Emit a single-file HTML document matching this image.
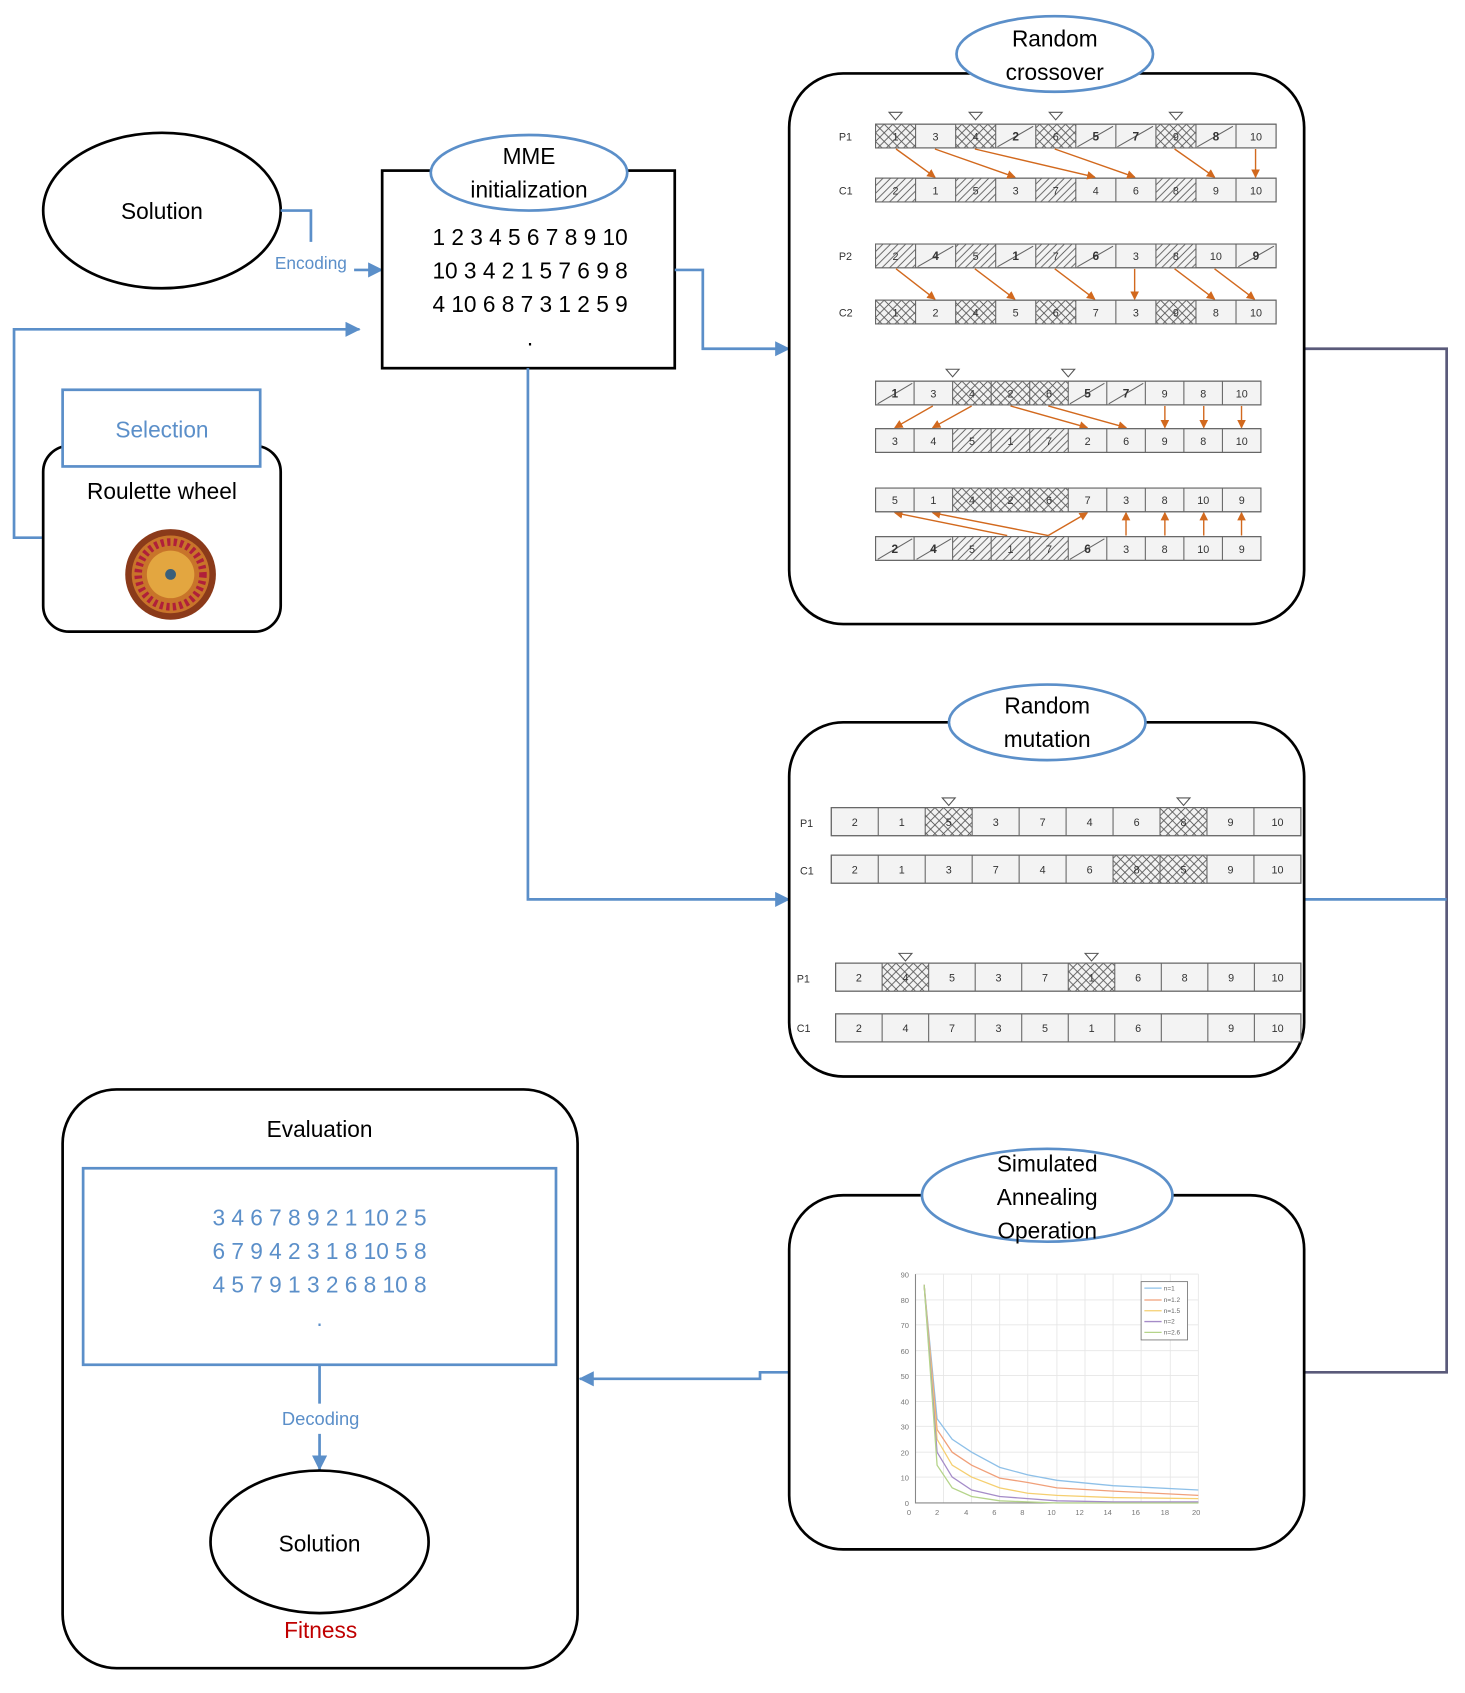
<!DOCTYPE html>
<html><head><meta charset="utf-8"><style>
html,body{margin:0;padding:0;background:#fff}
svg{display:block}
text{font-family:"Liberation Sans",sans-serif}
.c{fill:#f3f3f3;stroke:#666;stroke-width:1}
.t{font-size:10px;text-anchor:middle;fill:#333}
.b{font-weight:bold;font-size:11px}
.bl{fill:none;stroke:#5b8fc9;stroke-width:2.5}
.or line{stroke:#d2691e;stroke-width:1.3;marker-end:url(#ao)}
.vl{stroke:#666;stroke-width:1;fill:none}
</style></head><body>
<svg width="1465" height="1693" viewBox="0 0 1357 1568" preserveAspectRatio="none" xmlns="http://www.w3.org/2000/svg">
<defs>
<pattern id="x" width="8" height="8" patternUnits="userSpaceOnUse"><rect width="8" height="8" fill="#f3f3f3"/><path d="M0 0L8 8M8 0L0 8" stroke="#555" stroke-width="0.8"/></pattern>
<pattern id="h" width="7" height="7" patternUnits="userSpaceOnUse"><rect width="7" height="7" fill="#f3f3f3"/><path d="M0 7L7 0M-1 1L1 -1M6 8L8 6" stroke="#555" stroke-width="0.8"/></pattern>
<marker id="ao" markerWidth="8" markerHeight="8" refX="7" refY="4" orient="auto" markerUnits="userSpaceOnUse"><path d="M0 0L8 4L0 8z" fill="#d2691e"/></marker>
<marker id="ab" markerWidth="14" markerHeight="14" refX="13" refY="7" orient="auto" markerUnits="userSpaceOnUse"><path d="M0 0L14 7L0 14z" fill="#5b8fc9"/></marker>
<path id="v37" class="vl" d="M37.1 0v22M74.2 0v22M111.3 0v22M148.4 0v22M185.5 0v22M222.6 0v22M259.7 0v22M296.8 0v22M333.9 0v22"/>
<path id="v35" class="vl" d="M35.7 0v22M71.4 0v22M107.1 0v22M142.8 0v22M178.5 0v22M214.2 0v22M249.9 0v22M285.6 0v22M321.3 0v22"/>
<path id="v43" class="vl" d="M43.5 0v26M87 0v26M130.5 0v26M174 0v26M217.5 0v26M261 0v26M304.5 0v26M348 0v26M391.5 0v26"/>
<path id="v43b" class="vl" d="M43.1 0v26M86.2 0v26M129.3 0v26M172.4 0v26M215.5 0v26M258.6 0v26M301.7 0v26M344.8 0v26M387.9 0v26"/>
<path id="tri" d="M-6 0h12l-6 7z" fill="#fff" stroke="#555"/>
</defs>

<ellipse cx="150" cy="195" rx="110" ry="72" fill="#fff" stroke="#000" stroke-width="2.5"/>
<text x="150" y="203" font-size="21" text-anchor="middle">Solution</text>
<path class="bl" d="M260 195H288V224"/>
<text x="288" y="249" font-size="16" fill="#5b8fc9" text-anchor="middle">Encoding</text>
<path class="bl" d="M328 250H354" marker-end="url(#ab)"/>

<rect x="354" y="158" width="271" height="183" fill="#fff" stroke="#000" stroke-width="2.5"/>
<ellipse cx="490" cy="160" rx="91" ry="35" fill="#fff" stroke="#5b8fc9" stroke-width="2.5"/>
<text x="490" y="152" font-size="21" text-anchor="middle">MME</text>
<text x="490" y="183" font-size="21" text-anchor="middle">initialization</text>
<text x="491" y="227" font-size="21" text-anchor="middle">1 2 3 4 5 6 7 8 9 10</text>
<text x="491" y="258" font-size="21" text-anchor="middle">10 3 4 2 1 5 7 6 9 8</text>
<text x="491" y="289" font-size="21" text-anchor="middle">4  10 6 8 7 3 1 2 5 9</text>
<text x="491" y="320" font-size="21" text-anchor="middle">.</text>

<path class="bl" d="M40 498H13V305H333" marker-end="url(#ab)"/>
<rect x="40" y="413" width="220" height="172" rx="24" fill="#fff" stroke="#000" stroke-width="2.5"/>
<rect x="58" y="361" width="183" height="71" fill="#fff" stroke="#5b8fc9" stroke-width="2.5"/>
<text x="150" y="405" font-size="21" fill="#5b8fc9" text-anchor="middle">Selection</text>
<text x="150" y="462" font-size="21" text-anchor="middle">Roulette wheel</text>
<circle cx="158" cy="532" r="42" fill="#8b3a1a"/>
<circle cx="158" cy="532" r="36" fill="#c8742a"/>
<circle cx="158" cy="532" r="30" fill="none" stroke="#b0203a" stroke-width="7" stroke-dasharray="3 3"/>
<circle cx="158" cy="532" r="22" fill="#e3a640"/>
<circle cx="158" cy="532" r="5" fill="#3a5f7a"/>

<path class="bl" d="M625 250H651V323H731" marker-end="url(#ab)"/>
<path class="bl" d="M489 341V833H731" marker-end="url(#ab)"/>
<path d="M1208 323H1340V1271H1208" fill="none" stroke="#5a5a7a" stroke-width="2.5"/>
<path class="bl" d="M1208 833H1340"/>
<path class="bl" d="M731 1271H704V1277H537" marker-end="url(#ab)"/>

<rect x="731" y="68" width="477" height="510" rx="50" fill="#fff" stroke="#000" stroke-width="2.5"/>
<ellipse cx="977" cy="50" rx="91" ry="35" fill="#fff" stroke="#5b8fc9" stroke-width="2.5"/>
<text x="977" y="43" font-size="21" text-anchor="middle">Random</text>
<text x="977" y="74" font-size="21" text-anchor="middle">crossover</text>

<g font-size="10" fill="#333"><text x="777" y="130">P1</text><text x="777" y="180">C1</text><text x="777" y="241">P2</text><text x="777" y="293">C2</text></g>

<g transform="translate(811,115)">
<rect class="c" width="371" height="22"/>
<rect x="0" width="37.1" height="22" fill="url(#x)"/><rect x="74.2" width="37.1" height="22" fill="url(#x)"/><rect x="148.4" width="37.1" height="22" fill="url(#x)"/><rect x="259.7" width="37.1" height="22" fill="url(#x)"/>
<path class="vl" d="M113 21L146 2M187 21L220 2M224 21L257 2M298 21L331 2"/>
<use href="#v37"/><rect width="371" height="22" fill="none" stroke="#666"/>
<use href="#tri" x="18.5" y="-11"/><use href="#tri" x="92.7" y="-11"/><use href="#tri" x="166.9" y="-11"/><use href="#tri" x="278.2" y="-11"/>
<g class="t"><text x="18.5" y="15">1</text><text x="55.6" y="15">3</text><text x="92.7" y="15">4</text><text class="b" x="129.8" y="15">2</text><text x="166.9" y="15">6</text><text class="b" x="204" y="15">5</text><text class="b" x="241.1" y="15">7</text><text x="278.2" y="15">9</text><text class="b" x="315.3" y="15">8</text><text x="352.4" y="15">10</text></g>
</g>
<g transform="translate(811,165)">
<rect class="c" width="371" height="22"/>
<rect x="0" width="37.1" height="22" fill="url(#h)"/><rect x="74.2" width="37.1" height="22" fill="url(#h)"/><rect x="148.4" width="37.1" height="22" fill="url(#h)"/><rect x="259.7" width="37.1" height="22" fill="url(#h)"/>
<use href="#v37"/><rect width="371" height="22" fill="none" stroke="#666"/>
<g class="t"><text x="18.5" y="15">2</text><text x="55.6" y="15">1</text><text x="92.7" y="15">5</text><text x="129.8" y="15">3</text><text x="166.9" y="15">7</text><text x="204" y="15">4</text><text x="241.1" y="15">6</text><text x="278.2" y="15">8</text><text x="315.3" y="15">9</text><text x="352.4" y="15">10</text></g>
</g>
<g transform="translate(811,226)">
<rect class="c" width="371" height="22"/>
<rect x="0" width="37.1" height="22" fill="url(#h)"/><rect x="74.2" width="37.1" height="22" fill="url(#h)"/><rect x="148.4" width="37.1" height="22" fill="url(#h)"/><rect x="259.7" width="37.1" height="22" fill="url(#h)"/>
<path class="vl" d="M39 21L72 2M113 21L146 2M187 21L220 2M336 21L369 2"/>
<use href="#v37"/><rect width="371" height="22" fill="none" stroke="#666"/>
<g class="t"><text x="18.5" y="15">2</text><text class="b" x="55.6" y="15">4</text><text x="92.7" y="15">5</text><text class="b" x="129.8" y="15">1</text><text x="166.9" y="15">7</text><text class="b" x="204" y="15">6</text><text x="241.1" y="15">3</text><text x="278.2" y="15">8</text><text x="315.3" y="15">10</text><text class="b" x="352.4" y="15">9</text></g>
</g>
<g transform="translate(811,278)">
<rect class="c" width="371" height="22"/>
<rect x="0" width="37.1" height="22" fill="url(#x)"/><rect x="74.2" width="37.1" height="22" fill="url(#x)"/><rect x="148.4" width="37.1" height="22" fill="url(#x)"/><rect x="259.7" width="37.1" height="22" fill="url(#x)"/>
<use href="#v37"/><rect width="371" height="22" fill="none" stroke="#666"/>
<g class="t"><text x="18.5" y="15">1</text><text x="55.6" y="15">2</text><text x="92.7" y="15">4</text><text x="129.8" y="15">5</text><text x="166.9" y="15">6</text><text x="204" y="15">7</text><text x="241.1" y="15">3</text><text x="278.2" y="15">9</text><text x="315.3" y="15">8</text><text x="352.4" y="15">10</text></g>
</g>
<g class="or">
<line x1="830" y1="138" x2="866" y2="164"/><line x1="866" y1="138" x2="940" y2="164"/><line x1="903" y1="138" x2="1014" y2="164"/><line x1="977" y1="138" x2="1051" y2="164"/><line x1="1088" y1="138" x2="1125" y2="164"/><line x1="1163" y1="138" x2="1163" y2="164"/>
<line x1="830" y1="249" x2="866" y2="277"/><line x1="903" y1="249" x2="940" y2="277"/><line x1="977" y1="249" x2="1014" y2="277"/><line x1="1051" y1="249" x2="1051" y2="277"/><line x1="1088" y1="249" x2="1125" y2="277"/><line x1="1125" y1="249" x2="1162" y2="277"/>
<line x1="864" y1="376" x2="829" y2="396"/><line x1="900" y1="376" x2="864" y2="396"/><line x1="936" y1="376" x2="1007" y2="396"/><line x1="971" y1="376" x2="1043" y2="396"/><line x1="1079" y1="376" x2="1079" y2="396"/><line x1="1115" y1="376" x2="1115" y2="396"/><line x1="1150" y1="376" x2="1150" y2="396"/>
<line x1="933" y1="496" x2="829" y2="475"/><line x1="971" y1="496" x2="864" y2="475"/><line x1="971" y1="496" x2="1007" y2="475"/><line x1="1043" y1="496" x2="1043" y2="475"/><line x1="1079" y1="496" x2="1079" y2="475"/><line x1="1115" y1="496" x2="1115" y2="475"/><line x1="1150" y1="496" x2="1150" y2="475"/>
</g>

<g transform="translate(811,353)">
<rect class="c" width="357" height="22"/>
<rect x="71.4" width="107.1" height="22" fill="url(#x)"/>
<path class="vl" d="M2 21L34 2M180 21L212 2M216 21L248 2"/>
<use href="#v35"/><rect width="357" height="22" fill="none" stroke="#666"/>
<use href="#tri" x="71.4" y="-11"/><use href="#tri" x="178.5" y="-11"/>
<g class="t"><text class="b" x="17.9" y="15">1</text><text x="53.6" y="15">3</text><text x="89.3" y="15">4</text><text x="125" y="15">2</text><text x="160.7" y="15">6</text><text class="b" x="196.4" y="15">5</text><text class="b" x="232.1" y="15">7</text><text x="267.8" y="15">9</text><text x="303.5" y="15">8</text><text x="339.2" y="15">10</text></g>
</g>
<g transform="translate(811,397)">
<rect class="c" width="357" height="22"/>
<rect x="71.4" width="107.1" height="22" fill="url(#h)"/>
<use href="#v35"/><rect width="357" height="22" fill="none" stroke="#666"/>
<g class="t"><text x="17.9" y="15">3</text><text x="53.6" y="15">4</text><text x="89.3" y="15">5</text><text x="125" y="15">1</text><text x="160.7" y="15">7</text><text x="196.4" y="15">2</text><text x="232.1" y="15">6</text><text x="267.8" y="15">9</text><text x="303.5" y="15">8</text><text x="339.2" y="15">10</text></g>
</g>
<g transform="translate(811,452)">
<rect class="c" width="357" height="22"/>
<rect x="71.4" width="107.1" height="22" fill="url(#x)"/>
<use href="#v35"/><rect width="357" height="22" fill="none" stroke="#666"/>
<g class="t"><text x="17.9" y="15">5</text><text x="53.6" y="15">1</text><text x="89.3" y="15">4</text><text x="125" y="15">2</text><text x="160.7" y="15">6</text><text x="196.4" y="15">7</text><text x="232.1" y="15">3</text><text x="267.8" y="15">8</text><text x="303.5" y="15">10</text><text x="339.2" y="15">9</text></g>
</g>
<g transform="translate(811,497)">
<rect class="c" width="357" height="22"/>
<rect x="71.4" width="107.1" height="22" fill="url(#h)"/>
<path class="vl" d="M2 21L34 2M38 21L70 2M180 21L212 2"/>
<use href="#v35"/><rect width="357" height="22" fill="none" stroke="#666"/>
<g class="t"><text class="b" x="17.9" y="15">2</text><text class="b" x="53.6" y="15">4</text><text x="89.3" y="15">5</text><text x="125" y="15">1</text><text x="160.7" y="15">7</text><text class="b" x="196.4" y="15">6</text><text x="232.1" y="15">3</text><text x="267.8" y="15">8</text><text x="303.5" y="15">10</text><text x="339.2" y="15">9</text></g>
</g>

<rect x="731" y="669" width="477" height="328" rx="50" fill="#fff" stroke="#000" stroke-width="2.5"/>
<ellipse cx="970" cy="669" rx="91" ry="35" fill="#fff" stroke="#5b8fc9" stroke-width="2.5"/>
<text x="970" y="661" font-size="21" text-anchor="middle">Random</text>
<text x="970" y="692" font-size="21" text-anchor="middle">mutation</text>
<g font-size="10" fill="#333"><text x="741" y="766">P1</text><text x="741" y="810">C1</text><text x="738" y="910">P1</text><text x="738" y="956">C1</text></g>
<g transform="translate(770,748)">
<rect class="c" width="435" height="26"/>
<rect x="87" width="43.5" height="26" fill="url(#x)"/><rect x="304.5" width="43.5" height="26" fill="url(#x)"/>
<use href="#v43"/><rect width="435" height="26" fill="none" stroke="#666"/>
<use href="#tri" x="108.8" y="-9"/><use href="#tri" x="326.3" y="-9"/>
<g class="t"><text x="21.8" y="17">2</text><text x="65.3" y="17">1</text><text x="108.8" y="17">5</text><text x="152.3" y="17">3</text><text x="195.8" y="17">7</text><text x="239.3" y="17">4</text><text x="282.8" y="17">6</text><text x="326.3" y="17">8</text><text x="369.8" y="17">9</text><text x="413.3" y="17">10</text></g>
</g>
<g transform="translate(770,792)">
<rect class="c" width="435" height="26"/>
<rect x="261" width="87" height="26" fill="url(#x)"/>
<use href="#v43"/><rect width="435" height="26" fill="none" stroke="#666"/>
<g class="t"><text x="21.8" y="17">2</text><text x="65.3" y="17">1</text><text x="108.8" y="17">3</text><text x="152.3" y="17">7</text><text x="195.8" y="17">4</text><text x="239.3" y="17">6</text><text x="282.8" y="17">8</text><text x="326.3" y="17">5</text><text x="369.8" y="17">9</text><text x="413.3" y="17">10</text></g>
</g>
<g transform="translate(774,892)">
<rect class="c" width="431" height="26"/>
<rect x="43.1" width="43.1" height="26" fill="url(#x)"/><rect x="215.5" width="43.1" height="26" fill="url(#x)"/>
<use href="#v43b"/><rect width="431" height="26" fill="none" stroke="#666"/>
<use href="#tri" x="64.7" y="-9"/><use href="#tri" x="237.1" y="-9"/>
<g class="t"><text x="21.6" y="17">2</text><text x="64.7" y="17">4</text><text x="107.8" y="17">5</text><text x="150.9" y="17">3</text><text x="194" y="17">7</text><text x="237.1" y="17">1</text><text x="280.2" y="17">6</text><text x="323.3" y="17">8</text><text x="366.4" y="17">9</text><text x="409.5" y="17">10</text></g>
</g>
<g transform="translate(774,939)">
<rect class="c" width="431" height="26"/>
<use href="#v43b"/><rect width="431" height="26" fill="none" stroke="#666"/>
<g class="t"><text x="21.6" y="17">2</text><text x="64.7" y="17">4</text><text x="107.8" y="17">7</text><text x="150.9" y="17">3</text><text x="194" y="17">5</text><text x="237.1" y="17">1</text><text x="280.2" y="17">6</text><text x="366.4" y="17">9</text><text x="409.5" y="17">10</text></g>
</g>

<rect x="731" y="1107" width="477" height="328" rx="50" fill="#fff" stroke="#000" stroke-width="2.5"/>
<ellipse cx="970" cy="1107" rx="116" ry="43" fill="#fff" stroke="#5b8fc9" stroke-width="2.5"/>
<text x="970" y="1085" font-size="21" text-anchor="middle">Simulated</text>
<text x="970" y="1116" font-size="21" text-anchor="middle">Annealing</text>
<text x="970" y="1147" font-size="21" text-anchor="middle">Operation</text>
<g stroke="#e6e6e6" stroke-width="0.8">
<path d="M874 1180V1392M900 1180V1392M926 1180V1392M952 1180V1392M979 1180V1392M1005 1180V1392M1031 1180V1392M1057 1180V1392M1084 1180V1392M1110 1180V1392"/>
<path d="M848 1180H1110M848 1204H1110M848 1227H1110M848 1251H1110M848 1274H1110M848 1298H1110M848 1321H1110M848 1345H1110M848 1368H1110"/>
</g>
<path d="M848 1180V1392H1110" fill="none" stroke="#888" stroke-width="1"/>
<g font-size="7" fill="#777" text-anchor="end"><text x="842" y="1183">90</text><text x="842" y="1207">80</text><text x="842" y="1230">70</text><text x="842" y="1254">60</text><text x="842" y="1277">50</text><text x="842" y="1301">40</text><text x="842" y="1324">30</text><text x="842" y="1348">20</text><text x="842" y="1371">10</text><text x="842" y="1395">0</text></g>
<g font-size="7" fill="#777" text-anchor="middle"><text x="842" y="1403">0</text><text x="868" y="1403">2</text><text x="895" y="1403">4</text><text x="921" y="1403">6</text><text x="947" y="1403">8</text><text x="974" y="1403">10</text><text x="1000" y="1403">12</text><text x="1026" y="1403">14</text><text x="1052" y="1403">16</text><text x="1079" y="1403">18</text><text x="1108" y="1403">20</text></g>
<g fill="none" stroke-width="1.2">
<polyline stroke="#8ec0e8" points="856,1190 868,1314 882,1333 900,1345 926,1359 952,1366 979,1371 1031,1376 1110,1380"/>
<polyline stroke="#f0a07a" points="856,1190 868,1324 882,1345 900,1357 926,1369 952,1373 979,1378 1031,1381 1110,1385"/>
<polyline stroke="#f5cf70" points="856,1190 868,1333 882,1357 900,1368 926,1378 952,1383 979,1385 1031,1387 1110,1388"/>
<polyline stroke="#a58cc8" points="856,1190 868,1345 882,1368 900,1380 926,1386 952,1388 979,1390 1031,1391 1110,1391"/>
<polyline stroke="#b5d48a" points="856,1190 868,1357 882,1378 900,1386 926,1390 952,1391 979,1392 1110,1392"/>
</g>
<rect x="1057" y="1187" width="43" height="54" fill="#fff" stroke="#777" stroke-width="0.8"/>
<g stroke-width="1.2"><path d="M1060 1193h16" stroke="#8ec0e8"/><path d="M1060 1204h16" stroke="#f0a07a"/><path d="M1060 1214h16" stroke="#f5cf70"/><path d="M1060 1224h16" stroke="#a58cc8"/><path d="M1060 1234h16" stroke="#b5d48a"/></g>
<g font-size="6" fill="#666"><text x="1078" y="1195">n=1</text><text x="1078" y="1206">n=1.2</text><text x="1078" y="1216">n=1.5</text><text x="1078" y="1226">n=2</text><text x="1078" y="1236">n=2.6</text></g>

<rect x="58" y="1009" width="477" height="536" rx="50" fill="#fff" stroke="#000" stroke-width="2.5"/>
<text x="296" y="1053" font-size="21" text-anchor="middle">Evaluation</text>
<rect x="77" y="1082" width="438" height="182" fill="#fff" stroke="#5b8fc9" stroke-width="2.5"/>
<g font-size="21" fill="#5b8fc9" text-anchor="middle"><text x="296" y="1135">3 4 6 7 8 9 2 1 10 2 5</text><text x="296" y="1166">6 7 9 4 2 3 1 8 10 5 8</text><text x="296" y="1197">4 5 7 9 1 3 2 6 8 10 8</text><text x="296" y="1228">.</text></g>
<path class="bl" d="M296 1264V1300"/>
<text x="297" y="1320" font-size="17" fill="#5b8fc9" text-anchor="middle">Decoding</text>
<path class="bl" d="M296 1328V1361" marker-end="url(#ab)"/>
<ellipse cx="296" cy="1428" rx="101" ry="66" fill="#fff" stroke="#000" stroke-width="2.5"/>
<text x="296" y="1437" font-size="21" text-anchor="middle">Solution</text>
<text x="297" y="1517" font-size="21" fill="#c00000" text-anchor="middle">Fitness</text>
</svg>
</body></html>
